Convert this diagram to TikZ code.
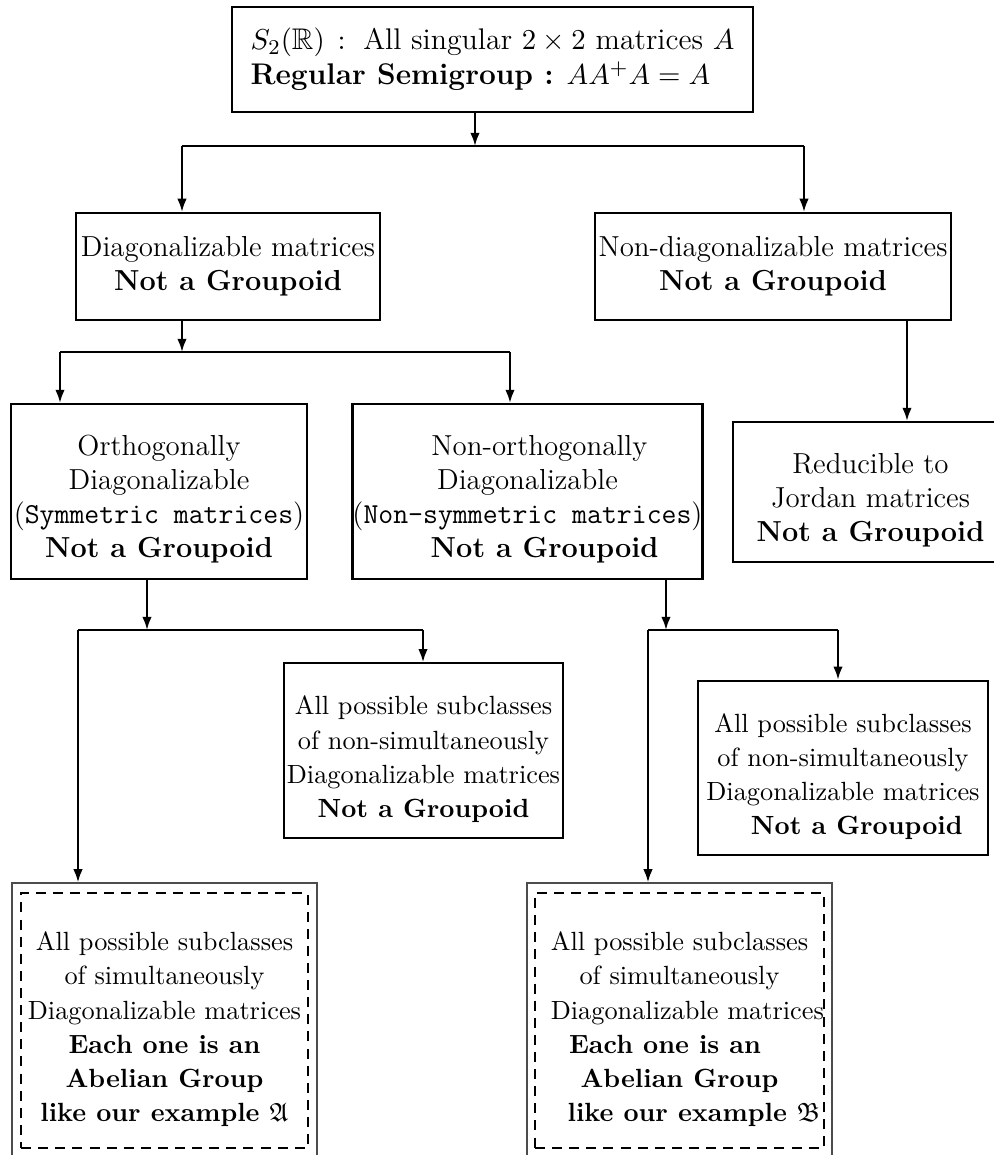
\documentclass[tikz,border=0pt]{standalone}
\usepackage{amsmath}
\usepackage{amssymb}
\usepackage{tikz}
\usetikzlibrary{arrows.meta}

\newcommand{\topgap}{\rule{0pt}{13.8pt}}

\begin{document}
\begin{tikzpicture}[x=0.38pt,y=-0.38pt,>={Latex[length=5pt,width=3.6pt]}]

\tikzset{
box/.style={rectangle,draw,thick,align=center,inner sep=0pt},
midbox/.style={box,font=\fontsize{11}{12.9}\selectfont},
lowbox/.style={box,font=\fontsize{10}{13}\selectfont,minimum height=66.3pt},
outerbox/.style={rectangle,draw=black!70,line width=0.5pt,minimum width=115.9pt,minimum height=104.5pt},
dashbox/.style={rectangle,draw,thick,dash pattern=on 3.8pt off 2.7pt,align=center,inner sep=0pt,minimum width=109pt,minimum height=96.9pt,font=\fontsize{10}{13}\selectfont}
}

\useasboundingbox (0,0) rectangle (994,1155);
\clip (0,0) rectangle (994,1155);

\node[box,align=left,font=\fontsize{11.35}{13.3}\selectfont,minimum width=198pt,minimum height=39.9pt] (semigroup) at (492.5,59.5) {$S_2(\mathbb{R})\,:\;$ All singular $2\times 2$ matrices $A$\\\textbf{Regular Semigroup :} $AA^{+}A=A$};

\node[midbox,minimum width=115.5pt,minimum height=40.7pt] (diag) at (228,266.5) {Diagonalizable matrices\\\textbf{Not a Groupoid}};
\node[midbox,minimum width=135.3pt,minimum height=40.7pt] (nondiag) at (773,266.5) {Non-diagonalizable matrices\\\textbf{Not a Groupoid}};

\node[midbox,minimum width=112.5pt,minimum height=66.5pt] (ortho) at (159,491.5) {\topgap Orthogonally\\Diagonalizable\\(\texttt{Symmetric matrices})\\\textbf{Not a Groupoid}};
\node[midbox,minimum width=132.6pt,minimum height=66.5pt] (nonortho) at (527.5,491.5) {\topgap\hspace{9pt}Non-orthogonally\\Diagonalizable\\(\texttt{Non-symmetric matrices})\\\hspace{13pt}\textbf{Not a Groupoid}};
\node[midbox,minimum width=104.5pt,minimum height=53.2pt] (jordan) at (870.5,492) {\topgap Reducible to\\Jordan matrices\\\textbf{Not a Groupoid}};

\node[lowbox,minimum width=106pt] (nonsimA) at (423.5,750.5) {\topgap All possible subclasses\\of non-simultaneously\\Diagonalizable matrices\\\textbf{Not a Groupoid}};
\node[lowbox,minimum width=110.2pt] (nonsimB) at (843,768) {\topgap All possible subclasses\\of non-simultaneously\\Diagonalizable matrices\\\hspace{10.5pt}\textbf{Not a Groupoid}};

\node[outerbox] (groupA) at (164.5,1020.5) {};
\node[dashbox] (groupAin) at (164.5,1020.5) {\topgap All possible subclasses\\of simultaneously\\Diagonalizable matrices\\\textbf{Each one is an}\\\textbf{Abelian Group}\\\textbf{like our example $\mathfrak{A}$}};
\node[outerbox] (groupB) at (679.5,1020.5) {};
\node[dashbox] (groupBin) at (679.5,1020.5) {\topgap All possible subclasses\\of simultaneously\\\hspace{6pt}Diagonalizable matrices\\\textbf{Each one is an}\kern11pt\\\textbf{Abelian Group}\\\hspace{11pt}\textbf{like our example $\mathfrak{B}$}};

\coordinate (split1) at (475,146);
\coordinate (split1l) at (182,146);
\coordinate (split1r) at (804,146);
\coordinate (split2) at (182,352);
\coordinate (split2l) at (60,352);
\coordinate (split2r) at (510,352);
\coordinate (split3) at (907,422);
\coordinate (split4) at (147,630);
\coordinate (split4l) at (78,630);
\coordinate (split4r) at (423,630);
\coordinate (split5) at (666,630);
\coordinate (split5l) at (648,630);
\coordinate (split5r) at (838,630);

\draw[->,thick] (split1 |- semigroup.south)--(split1);
\draw[thick] (split1l)--(split1r);
\draw[->,thick] (split1l)--(split1l |- diag.north);
\draw[->,thick] (split1r)--(split1r |- nondiag.north);

\draw[->,thick] (split2 |- diag.south)--(split2);
\draw[thick] (split2l)--(split2r);
\draw[->,thick] (split2l)--(split2l |- ortho.north);
\draw[->,thick] (split2r)--(split2r |- nonortho.north);

\draw[->,thick] (split3 |- nondiag.south)--(split3 |- jordan.north);

\draw[->,thick] (split4 |- ortho.south)--(split4);
\draw[thick] (split4l)--(split4r);
\draw[->,thick] (split4l)--(split4l |- groupA.north);
\draw[->,thick] (split4r)--(split4r |- nonsimA.north);

\draw[->,thick] (split5 |- nonortho.south)--(split5);
\draw[thick] (split5l)--(split5r);
\draw[->,thick] (split5l)--(split5l |- groupB.north);
\draw[->,thick] (split5r)--(split5r |- nonsimB.north);

\end{tikzpicture}
\end{document}
